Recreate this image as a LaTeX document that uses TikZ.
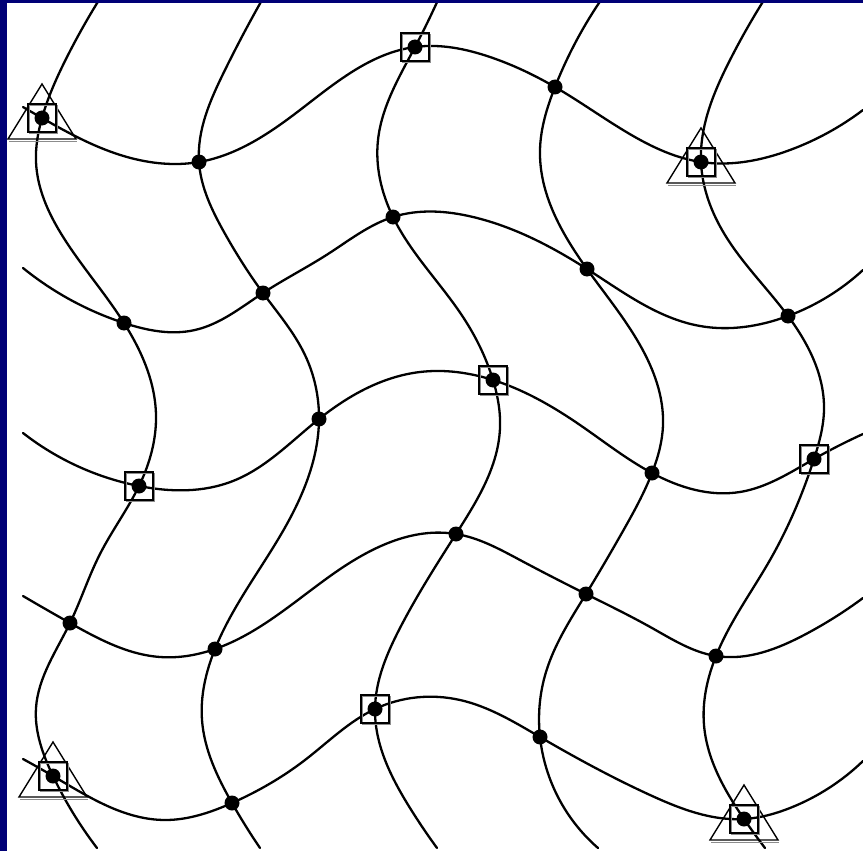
\documentclass[tikz,border=0pt]{standalone}
\usetikzlibrary{hobby}
\definecolor{navy}{RGB}{0,0,118}
\definecolor{shadowgrey}{RGB}{140,140,140}
\begin{document}
\begin{tikzpicture}[x=1pt,y=-1pt,
  curve/.style={line width=2.3pt, black, line cap=round, use Hobby shortcut},
  dotmark/.style={circle, fill=black, inner sep=0pt, minimum size=15pt},
  sqmark/.style={draw=black, line width=1.8pt, minimum size=28pt, inner sep=0pt},
  sqshadow/.style={draw=shadowgrey, line width=1.8pt, minimum size=28pt, inner sep=0pt},
  trimark/.style={draw=black, line width=1.4pt, line join=miter},
  trishadow/.style={draw=shadowgrey, line width=1.8pt}]
\useasboundingbox (0,0) rectangle (863,851);
\fill[white] (0,0) rectangle (863,851);
% intersection points
\coordinate (p11) at (42,118);  \coordinate (p12) at (199,162); \coordinate (p13) at (415,47);
\coordinate (p14) at (555,87);  \coordinate (p15) at (701,162);
\coordinate (p21) at (124,323); \coordinate (p22) at (263,293); \coordinate (p23) at (393,217);
\coordinate (p24) at (587,269); \coordinate (p25) at (788,316);
\coordinate (p31) at (139,486); \coordinate (p32) at (319,419); \coordinate (p33) at (493,380);
\coordinate (p34) at (652,473); \coordinate (p35) at (814,459);
\coordinate (p41) at (70,623);  \coordinate (p42) at (215,649); \coordinate (p43) at (456,534);
\coordinate (p44) at (586,594); \coordinate (p45) at (716,656);
\coordinate (p51) at (53,776);  \coordinate (p52) at (232,803); \coordinate (p53) at (375,709);
\coordinate (p54) at (540,737); \coordinate (p55) at (744,819);
% vertical curves
\draw[curve] (99,0) .. (67,57) .. (p11) .. (36,162) .. (67,243) .. (p21) .. (156,415) .. (p31) .. (100,554) .. (p41) .. (36,708) .. (p51) .. (97,848);
\draw[curve] (262,0) .. (224,72) .. (p12) .. (224,232) .. (p22) .. (305,355) .. (p32) .. (283,531) .. (p42) .. (202,720) .. (p52) .. (260,848);
\draw[curve] (438,0) .. (p13) .. (378,140) .. (p23) .. (463,317) .. (p33) .. (500,428) .. (p43) .. (400,628) .. (p53) .. (410,808) .. (437,848);
\draw[curve] (601,0) .. (p14) .. (540,150) .. (p24) .. (640,345) .. (663,425) .. (p34) .. (623,531) .. (p44) .. (546,672) .. (p54) .. (598,848);
\draw[curve] (764,0) .. (730,60) .. (p15) .. (725,235) .. (p25) .. (824,410) .. (p35) .. (770,560) .. (p45) .. (704,725) .. (p55) .. (765,848);
% horizontal curves
\draw[curve] (23,107) .. (p11) .. (127,157) .. (p12) .. (300,110) .. (p13) .. (490,57) .. (p14) .. (623,130) .. (p15) .. (790,150) .. (863,110);
\draw[curve] (23,268) .. (p21) .. (195,330) .. (p22) .. (328,254) .. (p23) .. (473,217) .. (p24) .. (700,326) .. (p25) .. (863,270);
\draw[curve] (23,433) .. (p31) .. (233,481) .. (p32) .. (420,372) .. (p33) .. (580,425) .. (p34) .. (740,492) .. (p35) .. (863,434);
\draw[curve] (23,596) .. (p41) .. (160,657) .. (p42) .. (333,574) .. (p43) .. (520,560) .. (p44) .. (652,628) .. (p45) .. (806,634) .. (863,598);
\draw[curve] (23,759) .. (p51) .. (165,820) .. (p52) .. (305,760) .. (p53) .. (460,700) .. (p54) .. (650,795) .. (p55) .. (790,808) .. (863,761);
% triangles
\foreach \p in {p11,p15,p51,p55}{
  \draw[trishadow] ([shift={(-33,23.5)}]\p) -- ([shift={(35,23.5)}]\p);
  \draw[trimark] (\p) ++(0,-34) -- ++(34,55) -- ++(-68,0) -- cycle;
}
% squares
\foreach \p in {p11,p13,p15,p31,p33,p35,p51,p53,p55}{
  \node[sqshadow] (sh\p) at ([shift={(1.5,1.5)}]\p) {};
  \node[sqmark] (sq\p) at (\p) {};
}
% dots
\foreach \p in {p11,p12,p13,p14,p15,p21,p22,p23,p24,p25,p31,p32,p33,p34,p35,p41,p42,p43,p44,p45,p51,p52,p53,p54,p55}{
  \node[dotmark] (d\p) at (\p) {};
}
% frame
\fill[navy] (0,0) rectangle (863,3.5);
\fill[navy] (0,0) rectangle (7,851);
\end{tikzpicture}
\end{document}
